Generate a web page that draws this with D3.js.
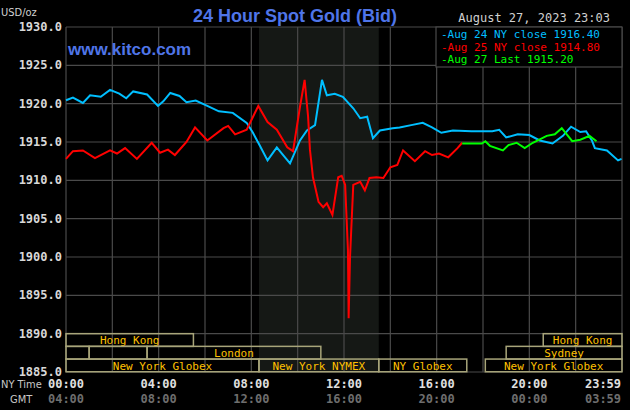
<!DOCTYPE html>
<html><head><meta charset="utf-8">
<script src="https://cdn.jsdelivr.net/npm/d3@7"></script>
<style>body{margin:0;background:#000}svg{display:block}</style>
</head><body>
<svg id="c" width="630" height="410"></svg>
<script>
const yTicks=[1885,1890,1895,1900,1905,1910,1915,1920,1925,1930];
const xTickNY=["00:00","04:00","08:00","12:00","16:00","20:00","23:59"];
const xTickGMT=["04:00","08:00","12:00","16:00","20:00","00:00","03:59"];
const xTickHours=[0,4,8,12,16,20,23.98];
const blueT=[0,0.3,0.73,1.04,1.5,1.9,2.3,2.6,2.9,3.5,3.97,4.2,4.5,4.9,5.2,5.6,6.1,6.6,7.2,7.8,8.07,8.37,8.7,9.1,9.4,9.67,10.1,10.4,10.75,11.05,11.26,11.6,11.95,12.4,12.7,13.0,13.25,13.55,14.1,14.4,14.9,15.4,15.8,16.2,16.7,17.5,18.4,18.7,19.0,19.5,20.0,20.45,21.0,21.45,21.8,22.2,22.45,22.7,22.83,23.35,23.83,23.98];
const blueV=[1920.45,1920.8,1920.1,1921.1,1920.9,1921.8,1921.3,1920.7,1921.6,1921.2,1919.7,1920.3,1921.4,1921.0,1920.2,1920.4,1919.7,1919.0,1918.8,1917.5,1916.2,1914.5,1912.6,1914.3,1913.2,1912.2,1915.2,1916.5,1917.2,1923.1,1921.1,1921.3,1920.9,1919.4,1918.1,1918.3,1915.5,1916.5,1916.8,1916.9,1917.2,1917.5,1916.9,1916.2,1916.5,1916.4,1916.4,1916.6,1915.6,1916.0,1915.9,1915.2,1914.8,1915.8,1917.0,1916.3,1916.4,1915.2,1914.2,1913.9,1912.6,1912.8];
const redT=[0,0.3,0.73,1.25,1.9,2.2,2.55,3.06,3.7,4.06,4.4,4.7,5.2,5.57,6.1,6.8,7.0,7.3,7.8,8.3,8.7,9.1,9.55,9.8,10.1,10.3,10.45,10.53,10.66,10.9,11.1,11.26,11.5,11.75,11.9,12.05,12.17,12.2,12.26,12.4,12.7,12.9,13.1,13.4,13.7,14.0,14.3,14.55,15.06,15.5,15.8,16.1,16.5,16.9,17.1];
const redV=[1912.8,1913.8,1913.9,1912.9,1913.9,1913.5,1914.2,1912.8,1914.9,1913.6,1914.0,1913.3,1915.0,1916.9,1915.2,1916.8,1917.1,1916.0,1916.6,1919.7,1917.6,1916.6,1914.3,1913.8,1919.6,1923.1,1918.3,1914.0,1910.4,1907.2,1906.5,1907.0,1905.5,1910.4,1910.6,1909.4,1900.9,1892.0,1900.0,1909.4,1909.8,1908.7,1910.3,1910.4,1910.3,1911.7,1912.0,1913.9,1912.5,1913.8,1913.3,1913.5,1913.0,1914.2,1914.9];
const greenT=[17.1,17.95,18.1,18.3,18.86,19.1,19.45,19.8,20.15,20.75,21.1,21.4,21.85,22.2,22.6,22.9];
const greenV=[1914.8,1914.8,1915.1,1914.5,1913.9,1914.6,1914.9,1914.2,1914.9,1915.8,1916.0,1916.8,1915.1,1915.3,1915.8,1915.1];
const legend=[["Aug 24 NY close 1916.40","#00bfff"],["Aug 25 NY close 1914.80","#ff0000"],["Aug 27 Last 1915.20","#00ff00"]];
const sessions=[
 {row:0,s:0,e:5.5,label:"Hong Kong"},
 {row:0,s:20.6,e:24,label:"Hong Kong"},
 {row:1,s:0,e:1,label:""},{row:1,s:1,e:3.5,label:""},{row:1,s:3.5,e:11,label:"London"},
 {row:1,s:19,e:24,label:"Sydney"},
 {row:2,s:0,e:8.33,label:"New York Globex"},{row:2,s:8.33,e:13.5,label:"New York NYMEX"},
 {row:2,s:13.5,e:17.3,label:"NY Globex"},{row:2,s:18.1,e:24,label:"New York Globex"}];

const svg=d3.select("#c");
svg.append("rect").attr("width",630).attr("height",410).attr("fill","#000");
const x=d3.scaleLinear().domain([0,24]).range([66,622]);
const y=d3.scaleLinear().domain([1885,1930]).range([372,27]);
const mono="'DejaVu Sans Mono','Liberation Mono',monospace";
svg.append("rect").attr("x",x(8.33)).attr("y",y(1930)).attr("width",x(13.5)-x(8.33)).attr("height",y(1885)-y(1930)).attr("fill","#151815");
const g=svg.append("g").attr("stroke","#4a4a4a").attr("stroke-width",1.2);
d3.range(0,25,2).forEach(h=>g.append("line").attr("x1",x(h)).attr("x2",x(h)).attr("y1",y(1930)).attr("y2",y(1885)));
yTicks.forEach(v=>g.append("line").attr("x1",x(0)).attr("x2",x(24)).attr("y1",y(v)).attr("y2",y(v)));
yTicks.forEach(v=>svg.append("text").attr("x",62).attr("y",y(v)+4).attr("text-anchor","end").attr("fill","#d8d8d8").attr("font-family",mono).attr("font-weight","bold").attr("font-size",12).text(v.toFixed(1)));
const rowY=[y(1890),y(1890)+12.7,y(1890)+25.4],rh=12.7;
sessions.forEach(s=>{
 svg.append("rect").attr("x",x(s.s)).attr("y",rowY[s.row]).attr("width",x(s.e)-x(s.s)).attr("height",rh).attr("fill","none").attr("stroke","#a8a57a").attr("stroke-width",1.5);
 if(s.label) svg.append("text").attr("x",(x(s.s)+x(s.e))/2).attr("y",rowY[s.row]+10.5).attr("text-anchor","middle").attr("fill","#ffc000").attr("font-family",mono).attr("font-size",11).text(s.label);
});
const line=d3.line().x(d=>x(d[0])).y(d=>y(d[1]));
[[blueT,blueV,"#00bfff"],[redT,redV,"#ff0000"],[greenT,greenV,"#00ff00"]].forEach(([t,v,c])=>{
 svg.append("path").attr("d",line(t.map((d,i)=>[d,v[i]]))).attr("fill","none").attr("stroke",c).attr("stroke-width",2);
});
xTickHours.forEach((h,i)=>{
 const xx=i==6?603:x(h);
 svg.append("text").attr("x",xx).attr("y",388).attr("text-anchor","middle").attr("fill","#e0e0e0").attr("font-family",mono).attr("font-weight","bold").attr("font-size",12).text(xTickNY[i]);
 svg.append("text").attr("x",xx).attr("y",403).attr("text-anchor","middle").attr("fill","#6e6e6e").attr("font-family",mono).attr("font-weight","bold").attr("font-size",12).text(xTickGMT[i]);
});
svg.append("text").attr("x",1).attr("y",388).attr("fill","#c8c8c8").attr("font-family","'DejaVu Sans Condensed',sans-serif").attr("font-size",11).text("NY Time");
svg.append("text").attr("x",10).attr("y",403).attr("fill","#c8c8c8").attr("font-family","'DejaVu Sans Condensed',sans-serif").attr("font-size",11).text("GMT");
svg.append("text").attr("x",295).attr("y",22).attr("text-anchor","middle").attr("fill","#4f75e8").attr("font-family","'Liberation Sans',Arial,sans-serif").attr("font-weight","bold").attr("font-size",18).text("24 Hour Spot Gold (Bid)");
svg.append("text").attr("x",68).attr("y",55).attr("fill","#4f75e8").attr("font-family","'Liberation Sans',Arial,sans-serif").attr("font-weight","bold").attr("font-size",17).text("www.kitco.com");
svg.append("text").attr("x",1).attr("y",16).attr("fill","#d0d0d0").attr("font-family","'DejaVu Sans Condensed',sans-serif").attr("font-size",11).text("USD/oz");
svg.append("text").attr("x",610).attr("y",22).attr("text-anchor","end").attr("fill","#d0d0d0").attr("font-family",mono).attr("font-size",12).text("August 27, 2023 23:03");
svg.append("rect").attr("x",436).attr("y",27).attr("width",186).attr("height",40).attr("fill","#000").attr("stroke","#4a4a4a").attr("stroke-width",1.2);
legend.forEach((l,i)=>svg.append("text").attr("x",441).attr("y",38+i*12.6).attr("fill",l[1]).attr("font-family",mono).attr("font-size",11).text("-"+l[0]));
</script></body></html>
